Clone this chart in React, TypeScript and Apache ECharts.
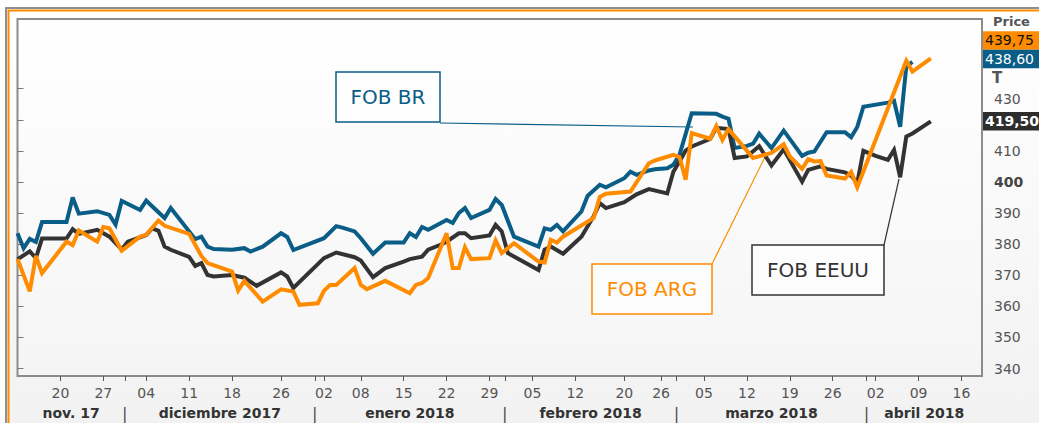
import React, { useEffect, useRef } from "react";
import * as echarts from "echarts";

// ---------- DATA ----------
const BR_DATES = ["2017-11-13","2017-11-14","2017-11-15","2017-11-16","2017-11-17","2017-11-21","2017-11-22","2017-11-23","2017-11-26","2017-11-28","2017-11-29","2017-11-30","2017-12-03","2017-12-04","2017-12-05","2017-12-07","2017-12-08","2017-12-12","2017-12-13","2017-12-14","2017-12-15","2017-12-18","2017-12-20","2017-12-21","2017-12-23","2017-12-26","2017-12-27","2017-12-28","2018-01-02","2018-01-04","2018-01-05","2018-01-07","2018-01-08","2018-01-10","2018-01-12","2018-01-15","2018-01-16","2018-01-17","2018-01-18","2018-01-19","2018-01-22","2018-01-23","2018-01-24","2018-01-25","2018-01-26","2018-01-29","2018-01-30","2018-01-31","2018-02-02","2018-02-06","2018-02-07","2018-02-08","2018-02-09","2018-02-10","2018-02-13","2018-02-14","2018-02-16","2018-02-17","2018-02-20","2018-02-21","2018-02-22","2018-02-24","2018-02-25","2018-02-27","2018-02-28","2018-03-01","2018-03-03","2018-03-07","2018-03-08","2018-03-09","2018-03-10","2018-03-12","2018-03-13","2018-03-14","2018-03-16","2018-03-18","2018-03-21","2018-03-22","2018-03-23","2018-03-25","2018-03-28","2018-03-29","2018-03-30","2018-03-31","2018-04-04","2018-04-05","2018-04-06","2018-04-07","2018-04-08"];
const BR_VALUES = [383.5,378.7,381.7,380.7,387.1,387.1,395.0,389.8,390.6,389.4,386.3,393.9,391.0,394.0,392.1,388.4,391.6,381.6,382.4,379.2,378.4,378.2,378.7,377.6,379.2,383.5,382.3,378.1,381.9,385.8,385.3,384.1,381.9,376.9,380.5,380.5,383.5,382.3,385.5,384.6,387.8,386.8,390.0,391.6,388.4,391.0,394.5,392.6,382.4,379.2,385.1,384.6,386.2,384.1,390.5,395.5,399.1,398.3,401.2,403.3,402.3,403.7,404.1,404.4,405.5,408.7,422.1,421.9,421.0,420.3,410.9,411.6,412.3,415.5,410.9,416.5,408.4,409.4,409.8,416.0,416.0,414.4,417.7,424.2,425.5,426.1,417.7,437.1,438.6];

const ARG_DATES = ["2017-11-13","2017-11-15","2017-11-16","2017-11-17","2017-11-21","2017-11-22","2017-11-23","2017-11-26","2017-11-27","2017-11-28","2017-11-30","2017-12-03","2017-12-04","2017-12-06","2017-12-07","2017-12-11","2017-12-13","2017-12-14","2017-12-18","2017-12-19","2017-12-20","2017-12-23","2017-12-26","2017-12-28","2017-12-29","2018-01-01","2018-01-02","2018-01-03","2018-01-04","2018-01-07","2018-01-08","2018-01-09","2018-01-10","2018-01-12","2018-01-16","2018-01-17","2018-01-18","2018-01-19","2018-01-22","2018-01-23","2018-01-24","2018-01-25","2018-01-26","2018-01-29","2018-01-30","2018-01-31","2018-02-02","2018-02-06","2018-02-07","2018-02-08","2018-02-09","2018-02-10","2018-02-15","2018-02-16","2018-02-17","2018-02-21","2018-02-24","2018-02-25","2018-02-28","2018-03-01","2018-03-02","2018-03-03","2018-03-06","2018-03-07","2018-03-08","2018-03-09","2018-03-13","2018-03-16","2018-03-18","2018-03-19","2018-03-21","2018-03-22","2018-03-23","2018-03-24","2018-03-25","2018-03-28","2018-03-29","2018-03-30","2018-04-07","2018-04-08","2018-04-11"];
const ARG_VALUES = [375.2,364.8,376.2,370.7,380.8,379.7,384.4,380.8,385.5,385.1,377.9,382.4,383.0,387.6,385.9,383.3,376.2,373.9,371.2,365.1,368.2,361.5,365.5,364.8,360.5,361.0,365.0,366.9,366.9,372.3,366.9,365.5,366.4,368.2,364.2,366.9,367.5,369.1,383.5,372.3,372.3,379.0,375.2,375.5,381.2,377.1,380.3,374.4,374.1,381.4,380.5,382.4,388.4,395.2,396.2,396.9,406.0,406.9,408.7,408.0,400.7,415.7,413.9,418.0,413.5,417.0,407.7,409.3,412.1,408.2,404.2,407.3,406.6,406.7,402.1,401.1,403.2,398.3,439.0,435.5,439.75];

const US_DATES = ["2017-11-13","2017-11-15","2017-11-16","2017-11-17","2017-11-21","2017-11-22","2017-11-23","2017-11-26","2017-11-28","2017-11-30","2017-12-01","2017-12-04","2017-12-05","2017-12-06","2017-12-07","2017-12-08","2017-12-11","2017-12-12","2017-12-13","2017-12-14","2017-12-15","2017-12-18","2017-12-20","2017-12-22","2017-12-26","2017-12-27","2017-12-28","2018-01-02","2018-01-04","2018-01-07","2018-01-08","2018-01-10","2018-01-12","2018-01-15","2018-01-16","2018-01-18","2018-01-19","2018-01-21","2018-01-22","2018-01-24","2018-01-25","2018-01-26","2018-01-29","2018-01-30","2018-01-31","2018-02-01","2018-02-06","2018-02-07","2018-02-08","2018-02-10","2018-02-13","2018-02-15","2018-02-16","2018-02-17","2018-02-20","2018-02-22","2018-02-24","2018-02-27","2018-02-28","2018-03-01","2018-03-02","2018-03-03","2018-03-06","2018-03-07","2018-03-09","2018-03-10","2018-03-12","2018-03-14","2018-03-16","2018-03-18","2018-03-21","2018-03-22","2018-03-24","2018-03-25","2018-03-28","2018-03-29","2018-03-30","2018-03-31","2018-04-02","2018-04-04","2018-04-05","2018-04-06","2018-04-07","2018-04-08","2018-04-11"];
const US_VALUES = [375.1,377.7,375.5,381.8,381.8,384.8,383.3,384.6,382.4,378.3,380.8,382.9,385.1,384.3,379.2,378.2,375.9,373.0,373.9,370.1,369.6,370.1,369.2,366.6,370.9,369.6,365.9,375.5,377.3,375.8,374.7,369.4,372.3,374.4,375.2,376.0,378.2,379.8,380.8,383.5,383.5,381.9,382.8,386.2,384.1,377.1,371.7,378.2,379.2,376.9,382.4,389.0,393.2,391.6,393.5,396.0,397.7,396.3,403.3,406.6,410.1,411.4,413.8,417.4,417.0,407.7,408.2,411.5,405.3,410.5,400.1,403.9,405.0,404.2,403.1,402.0,399.7,410.0,408.4,407.1,410.3,401.5,414.6,415.6,419.5];

const WEEK_LABELS = ["2017-11-20","2017-11-27","2017-12-04","2017-12-11","2017-12-18","2017-12-26","2018-01-02","2018-01-08","2018-01-15","2018-01-22","2018-01-29","2018-02-05","2018-02-12","2018-02-20","2018-02-26","2018-03-05","2018-03-12","2018-03-19","2018-03-26","2018-04-02","2018-04-09","2018-04-16"];
const MONTH_NAMES = ["nov. 17","diciembre 2017","enero 2018","febrero 2018","marzo 2018","abril 2018"];
const MONTH_STARTS = ["2017-11-01","2017-12-01","2018-01-01","2018-02-01","2018-03-01","2018-04-01","2018-05-01"];
const Y_TICKS = [340,350,360,370,380,390,400,410,420,430];
// 420 is covered by the last-value badge in the reference, so it has a tick but no label
const Y_LABELS = [340,350,360,370,380,390,400,410,430];

const BR_COLOR = "#0a5d86";
const ARG_COLOR = "#ff8c00";
const US_COLOR = "#333333";

const ORIGIN = Date.UTC(2017, 10, 13);
function dayNum(s: string): number {
  const [y, m, d] = s.split("-").map(Number);
  return (Date.UTC(y, m - 1, d) - ORIGIN) / 864e5;
}
const X_MIN = 0;
const X_MAX = 157.35;
const Y_MIN = 337.6;
const Y_MAX = 452.4;
const FONT = "DejaVu Sans";

export default function App() {
  const ref = useRef<HTMLDivElement>(null);
  useEffect(() => {
    document.body.style.margin = "0";
    const el = ref.current!;
    const chart = echarts.init(el, null, { renderer: "svg" });

    const pair = (dates: string[], vals: number[]) => dates.map((d, i) => [dayNum(d), vals[i]]);

    const bounds = MONTH_STARTS.map((s) => Math.min(X_MAX, Math.max(X_MIN, dayNum(s) - 0.5)));
    const monthLabelMap: Record<string, string> = {};
    const monthValues: number[] = [];
    MONTH_NAMES.forEach((name, i) => {
      const c = (bounds[i] + bounds[i + 1]) / 2;
      monthValues.push(c);
      monthLabelMap[c.toFixed(3)] = "{m|" + name + "}";
    });
    const seps = bounds.filter((b) => b > X_MIN && b < X_MAX);
    seps.forEach((b) => {
      monthValues.push(b);
      monthLabelMap[b.toFixed(3)] = "{s||}";
    });
    const weekVals = WEEK_LABELS.map(dayNum);

    const option: any = {
      animation: false,
      backgroundColor: "transparent",
      grid: [
        {
          left: 17.5, right: 57, top: 19, bottom: 47,
          show: true,
          borderColor: "#8c8c8c",
          borderWidth: 2,
          backgroundColor: new echarts.graphic.LinearGradient(0, 0, 0, 1, [
            { offset: 0, color: "#ffffff" },
            { offset: 1, color: "#f5f5f5" },
          ]),
        },
        { left: 17.5, right: 57, top: 19, bottom: 47, show: false },
      ],
      xAxis: [
        {
          type: "value", gridIndex: 0, min: X_MIN, max: X_MAX,
          axisLine: { show: false },
          splitLine: { show: false },
          axisTick: {
            show: true, length: 5,
            customValues: weekVals.concat(seps),
            lineStyle: { color: "#555", width: 1 },
          },
          axisLabel: {
            customValues: weekVals,
            margin: 10,
            fontFamily: FONT, fontSize: 14, color: "#555",
            formatter: (v: number) => {
              const d = new Date(ORIGIN + Math.round(v) * 864e5);
              const n = d.getUTCDate();
              return (n < 10 ? "0" : "") + n;
            },
          },
        },
        {
          type: "value", gridIndex: 1, min: X_MIN, max: X_MAX,
          axisLine: { show: false }, axisTick: { show: false }, splitLine: { show: false },
          axisLabel: {
            customValues: monthValues,
            margin: 30,
            formatter: (v: number) => monthLabelMap[v.toFixed(3)] || "",
            rich: {
              m: { fontFamily: FONT, fontSize: 14, fontWeight: "bold", color: "#333" },
              s: { fontFamily: FONT, fontSize: 15, color: "#444" },
            },
          },
        },
      ],
      yAxis: [
        {
          type: "value", gridIndex: 0, position: "right", min: Y_MIN, max: Y_MAX,
          axisLine: { show: false },
          splitLine: { show: false },
          axisTick: { show: true, length: 6, customValues: Y_TICKS, lineStyle: { color: "#777" } },
          axisLabel: {
            customValues: Y_LABELS,
            margin: 12,
            formatter: (v: number) => (v === 400 ? "{b|400}" : v === 430 ? "{d|430}" : "{n|" + v + "}"),
            rich: {
              n: { fontFamily: FONT, fontSize: 14, color: "#555" },
              b: { fontFamily: FONT, fontSize: 14, color: "#444", fontWeight: "bold" },
              d: { fontFamily: FONT, fontSize: 14, color: "#555", padding: [20, 0, 0, 0] },
            },
          },
        },
        { type: "value", gridIndex: 1, show: false, min: Y_MIN, max: Y_MAX },
      ],
      series: [
        {
          name: "FOB BR", type: "line", data: pair(BR_DATES, BR_VALUES), showSymbol: false,
          lineStyle: { color: BR_COLOR, width: 4, join: "miter", miterLimit: 3 }, z: 2,
        },
        {
          name: "FOB EEUU", type: "line", data: pair(US_DATES, US_VALUES), showSymbol: false,
          lineStyle: { color: US_COLOR, width: 4, join: "miter", miterLimit: 3 }, z: 3,
        },
        {
          name: "FOB ARG", type: "line", data: pair(ARG_DATES, ARG_VALUES), showSymbol: false,
          lineStyle: { color: ARG_COLOR, width: 4, join: "miter", miterLimit: 3 }, z: 4,
        },
      ],
    };
    chart.setOption(option);

    const yPx = (v: number) => chart.convertToPixel({ yAxisIndex: 0 }, v) as number;
    const brLast = BR_VALUES[BR_VALUES.length - 1];
    const argLast = ARG_VALUES[ARG_VALUES.length - 1];
    const usLast = US_VALUES[US_VALUES.length - 1];
    const fmt = (v: number) => v.toFixed(2).replace(".", ",");
    const BH = 18.5;
    const brY = yPx(brLast) - 3;
    const argY = brY - BH;
    const usY = yPx(usLast);

    const badge = (cy: number, bg: string, fg: string, text: string, bold: boolean) => ({
      type: "group",
      z: 20,
      children: [
        { type: "rect", shape: { x: 983, y: cy - BH / 2, width: 60, height: BH }, style: { fill: bg } },
        {
          type: "text", x: 985, y: cy,
          style: { text, fill: fg, font: (bold ? "bold " : "") + "14px " + FONT, verticalAlign: "middle", align: "left" },
        },
      ],
    });

    const callout = (x: number, y: number, w: number, h: number, color: string, text: string, lx1: number, ly1: number, lx2: number, ly2: number) => ({
      type: "group",
      z: 15,
      children: [
        { type: "line", shape: { x1: lx1, y1: ly1, x2: lx2, y2: ly2 }, style: { stroke: color, lineWidth: 1.2 } },
        { type: "rect", shape: { x, y, width: w, height: h }, style: { fill: "rgba(255,255,255,0.6)", stroke: color, lineWidth: 1.5 } },
        {
          type: "text", x: x + w / 2, y: y + h / 2,
          style: { text, fill: color, font: "20px " + FONT, align: "center", verticalAlign: "middle" },
        },
      ],
    });

    chart.setOption({
      graphic: [
        { type: "rect", z: 1, shape: { x: 6, y: 8, width: 1100, height: 500 }, style: { fill: "none", stroke: "#8f8f8f", lineWidth: 2 } },
        { type: "rect", z: 1, shape: { x: 8.5, y: 10.5, width: 1100, height: 500 }, style: { fill: "none", stroke: "#ff8c00", lineWidth: 2 } },
        { type: "text", z: 10, x: 993, y: 21, style: { text: "Price", fill: "#555", font: "bold 13px " + FONT, verticalAlign: "middle" } },
        { type: "text", z: 10, x: 992, y: 78, style: { text: "T", fill: "#555", font: "bold 15px " + FONT, verticalAlign: "middle" } },
        badge(argY, ARG_COLOR, "#111", fmt(argLast), false),
        badge(brY, BR_COLOR, "#ffffff", fmt(brLast), false),
        badge(usY, "#2d2d2d", "#ffffff", fmt(usLast), true),
        callout(336, 72, 104, 50, BR_COLOR, "FOB BR", 440, 123, 693, 127),
        callout(592, 264, 120, 50, ARG_COLOR, "FOB ARG", 712, 264, 765, 157),
        callout(752, 245, 132, 50, US_COLOR, "FOB EEUU", 884, 245, 899, 179),
      ],
    });

    return () => chart.dispose();
  }, []);

  return (
    <div style={{ position: "relative", width: 1039, height: 423, background: "#ffffff", overflow: "hidden" }}>
      <div style={{ position: "absolute", left: 7, top: 9, right: 0, bottom: 0, background: "linear-gradient(#ffffff, #f2f2f2)" }} />
      <div ref={ref} style={{ position: "absolute", left: 0, top: 0, width: 1039, height: 423 }} />
    </div>
  );
}
